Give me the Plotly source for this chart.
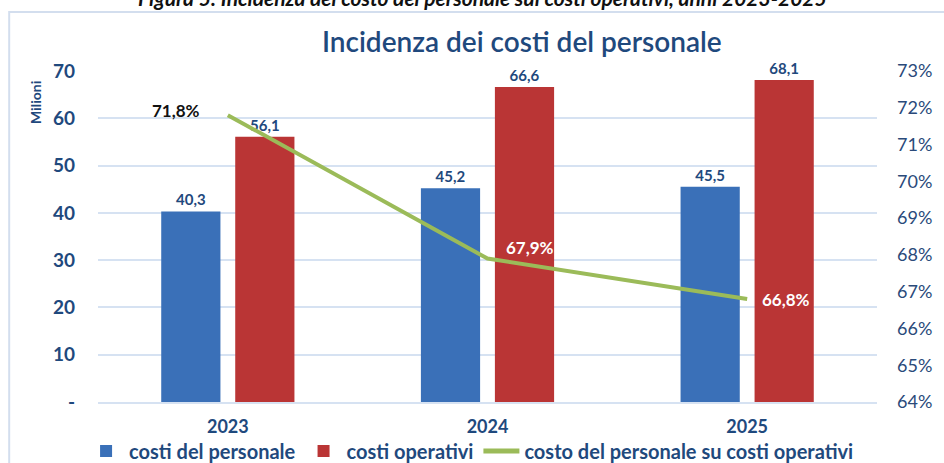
import plotly.graph_objects as go

anni = ["2023", "2024", "2025"]
costi_personale = [40.3, 45.2, 45.5]
costi_operativi = [56.1, 66.6, 68.1]
incidenza = [0.718, 0.679, 0.668]
incidenza_labels = ["71,8%", "67,9%", "66,8%"]

y_left_ticks = [0, 10, 20, 30, 40, 50, 60, 70]
y_left_labels = ["-", "10", "20", "30", "40", "50", "60", "70"]
y_right_ticks = [0.64, 0.65, 0.66, 0.67, 0.68, 0.69, 0.70, 0.71, 0.72, 0.73]
y_right_labels = ["64%", "65%", "66%", "67%", "68%", "69%", "70%", "71%", "72%", "73%"]

FONT = "Lato, Open Sans, sans-serif"
DARK = "#1F497D"

fig = go.Figure()
fig.add_trace(go.Bar(
    x=anni, y=costi_personale, name="costi del personale",
    marker=dict(color="#3A70B8", line=dict(width=0)),
    texttemplate="%{y:.1f}", textposition="outside", cliponaxis=False,
    textfont=dict(family=FONT, size=15, color=DARK, weight="bold"),
))
fig.add_trace(go.Bar(
    x=anni, y=costi_operativi, name="costi operativi",
    marker=dict(color="#BA3535", line=dict(width=0)),
    texttemplate="%{y:.1f}", textposition="outside", cliponaxis=False,
    textfont=dict(family=FONT, size=15, color=DARK, weight="bold"),
))
fig.add_trace(go.Scatter(
    x=anni, y=incidenza, name="costo del personale su costi operativi",
    yaxis="y2", mode="lines",
    line=dict(color="#9BBB59", width=4),
    cliponaxis=False,
))

# line value labels, anchored to the data points (category index on x)
label_colors = ["#111111", "white", "white"]
label_shift = [(-52, 5), (42, 11), (39, 0)]
for i, (yv, txt, col, (dx, dy)) in enumerate(zip(incidenza, incidenza_labels, label_colors, label_shift)):
    fig.add_annotation(x=i, y=yv, xref="x", yref="y2", text=txt, showarrow=False,
                       xshift=dx, yshift=dy,
                       font=dict(family=FONT, size=17, color=col, weight="bold"))

fig.update_layout(
    width=944, height=463,
    margin=dict(l=98, r=67, t=71, b=61, autoexpand=False),
    paper_bgcolor="white", plot_bgcolor="white",
    separators=",.",
    barmode="group", bargap=0.43, bargroupgap=0.2,
    font=dict(family=FONT, color=DARK),
    title=dict(text="Incidenza dei costi del personale", x=0.544, xanchor="center",
               xref="paper", y=0.909, yanchor="middle", yref="container",
               font=dict(family=FONT, size=28, color=DARK, weight=600)),
    xaxis=dict(type="category", showgrid=False, showline=True, linecolor="#D6E2F2", linewidth=1.5,
               tickfont=dict(family=FONT, size=18, color=DARK, weight="bold"),
               ticks="", zeroline=False, automargin=False, ticklabelstandoff=8),
    yaxis=dict(range=[0, 70], tickvals=y_left_ticks, ticktext=y_left_labels,
               showgrid=True, gridcolor="#D6E2F2", gridwidth=1.5, zeroline=False,
               tickfont=dict(family=FONT, size=19, color=DARK, weight="bold"),
               ticklabelstandoff=22, automargin=False),
    yaxis2=dict(range=[0.64, 0.73], tickvals=y_right_ticks, ticktext=y_right_labels,
                overlaying="y", side="right", showgrid=False, zeroline=False,
                tickfont=dict(family=FONT, size=18, color="#2A4A7A"),
                ticklabelstandoff=19, automargin=False),
    legend=dict(orientation="h", x=0.088, xanchor="left", xref="container",
                y=0.026, yanchor="middle", yref="container",
                font=dict(family=FONT, size=20, color=DARK, weight="bold"),
                itemsizing="constant", tracegroupgap=0, itemwidth=36,
                bgcolor="rgba(0,0,0,0)"),
    showlegend=True,
)

fig.add_annotation(text="Milioni", textangle=-90, xref="paper", yref="paper",
                   x=-0.081, y=0.906, xanchor="center", yanchor="middle", showarrow=False,
                   font=dict(family=FONT, size=14, color=DARK, weight="bold"))
fig.add_annotation(text="<i>Figura 5: Incidenza del costo del personale sui costi operativi, anni 2023-2025</i>",
                   xref="paper", yref="paper", x=0.494, y=1.222, xanchor="center", yanchor="middle",
                   showarrow=False,
                   font=dict(family=FONT, size=21, color="#111111", weight="bold"))
fig.add_shape(type="rect", xref="paper", yref="paper", x0=-0.114, x1=1.2, y0=-0.4, y1=1.178,
              line=dict(color="#D3DEEE", width=2), fillcolor="rgba(0,0,0,0)", layer="below")

fig.write_html("out.html", config={"displayModeBar": False},
               post_script="document.body.style.margin='0px';")
